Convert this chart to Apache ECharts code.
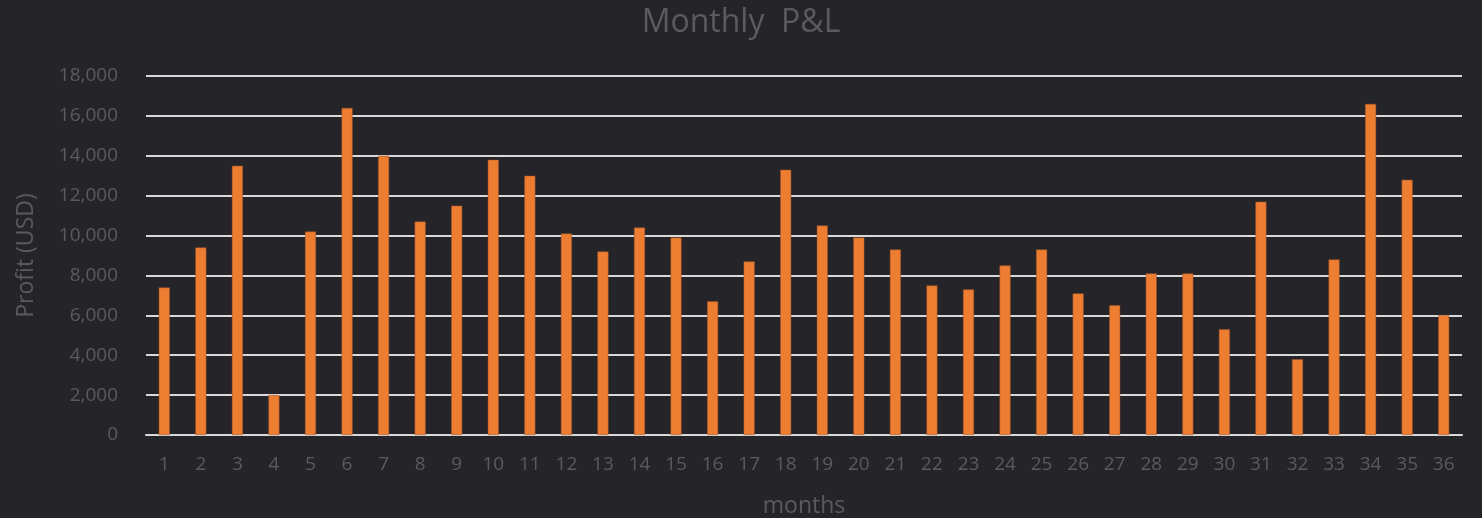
<!DOCTYPE html>
<html>
<head>
<meta charset="utf-8">
<script src="https://cdn.jsdelivr.net/npm/echarts@6/dist/echarts.min.js"></script>
<style>
  html, body { margin: 0; padding: 0; background: #252429; }
  #chart { width: 1482px; height: 518px; }
</style>
</head>
<body>
<div id="chart"></div>
<script>
// months 1..36
var months = [];
for (var i = 1; i <= 36; i++) months.push(String(i));

// monthly profit (USD)
var profit = [
    7400, 9400, 13500, 2000, 10200, 16400, 14000, 10700, 11500, 13800,
    13000, 10100, 9200, 10400, 9900, 6700, 8700, 13300, 10500, 9900,
    9300, 7500, 7300, 8500, 9300, 7100, 6500, 8100, 8100, 5300,
    11700, 3800, 8800, 16600, 12800, 6000
];

var textColor = '#5b5b5e';
var chart = echarts.init(document.getElementById('chart'));

var option = {
    backgroundColor: '#252429',
    title: {
        text: 'Monthly  P&L',
        left: 'center',
        top: 2,
        textStyle: {
            color: textColor,
            fontSize: 32,
            fontWeight: 'normal',
            fontFamily: 'Open Sans'
        }
    },
    grid: {
        left: 146,
        right: 20,
        top: 76,
        bottom: 83,
        outerBoundsMode: 'none'
    },
    xAxis: {
        type: 'category',
        data: months,
        name: 'months',
        nameLocation: 'middle',
        nameGap: 60,
        nameTextStyle: { color: textColor, fontSize: 23, fontFamily: 'Open Sans' },
        axisLine: { lineStyle: { color: '#d9d9d9', width: 2 } },
        axisTick: { show: false },
        axisLabel: { color: textColor, fontSize: 19, margin: 20, fontFamily: 'Open Sans' }
    },
    yAxis: {
        type: 'value',
        min: 0,
        max: 18000,
        interval: 2000,
        name: 'Profit (USD)',
        nameLocation: 'middle',
        nameGap: 108,
        nameTextStyle: { color: textColor, fontSize: 23, fontFamily: 'Open Sans' },
        axisLine: { show: false },
        axisTick: { show: false },
        axisLabel: {
            color: textColor,
            fontSize: 19,
            margin: 28,
            fontFamily: 'Open Sans',
            formatter: function (v) { return v.toLocaleString('en-US'); }
        },
        splitLine: { lineStyle: { color: '#d9d9d9', width: 2 } }
    },
    series: [
        {
            type: 'bar',
            data: profit,
            barWidth: 11,
            itemStyle: { color: '#ed7d31', borderColor: '#a0522d', borderWidth: 0.5 }
        }
    ]
};

chart.setOption(option);
</script>
</body>
</html>
